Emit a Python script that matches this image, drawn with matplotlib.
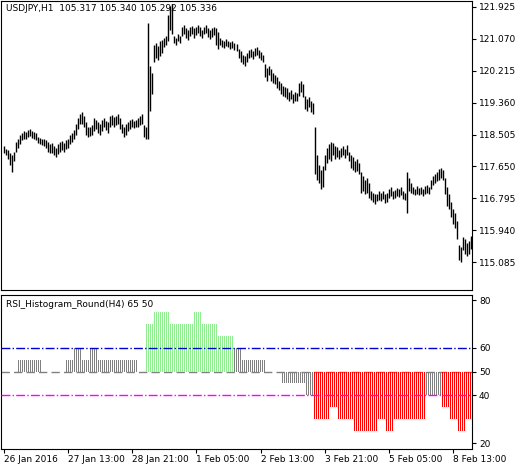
import matplotlib
matplotlib.use("Agg")
import matplotlib.pyplot as plt
import numpy as np

highs = [118.20,118.12,118.08,118.00,117.95,118.05,118.30,118.40,118.50,
 118.55,118.60,118.58,118.62,118.65,118.60,118.58,118.55,
 118.45,118.42,118.40,118.38,118.35, 118.30,118.25,118.28, 118.20,118.15,118.25,
 118.30,118.32,118.28,118.35,118.38, 118.50,118.55,118.62, 118.80,118.95,119.05,
 119.10,119.00, 118.85,118.70,118.72,118.75, 118.95,118.90,118.85,118.80,
 118.90,118.95,118.88,118.85, 119.00,119.02,118.98,119.00,119.05,118.95,
 118.80,118.70,118.78,118.85, 118.90,118.92,118.88,118.90, 118.95,119.00,119.05,
 118.75,118.70, 121.50, 120.35,120.15, 120.90,120.95,120.88,121.00,121.05,
 121.10,121.15, 121.70,121.95,122.00, 121.15,121.10,121.20,121.15,
 121.40,121.45,121.35,121.30,
 121.38,121.42,121.35,121.40,121.45,121.38,121.32,121.40,121.44,121.36,121.30,121.35,121.40,
 121.35,121.25, 121.10,121.05,121.00,121.08,121.02,120.98,121.00,120.95,120.92,
 120.80,120.75,120.65,120.60,120.70, 120.78,120.80,120.75,120.82,120.85,120.78,120.72,120.65,
 120.40,120.30,120.35,120.25,120.15,120.10, 120.05,119.95,119.90,119.80,119.78,
 119.75,119.65,119.70,119.60,119.65,119.62, 119.90,119.95,119.85,
 119.55,119.45,119.50,119.40,119.35, 118.70,
 117.95,117.70,117.55,117.65,117.95,
 118.15,118.25,118.30,118.28,118.20,118.18,118.10,118.15,118.20,118.12,118.22,118.05,
 117.95,117.90,117.80,117.85,117.75,
 117.50,117.40,117.30,117.35,117.20,
 117.00,116.95,116.90,116.92,116.98,116.95,117.00,116.90,116.95,
 117.05,117.10,117.00,117.02,117.08,117.05,117.10,117.00,116.95,
 117.50,
 117.35,117.20,117.10,117.05,117.12,117.08,117.10,117.05,117.12,117.15,117.10,
 117.30,117.40,117.45,117.50,117.58,117.62,117.55,
 117.35,117.10,116.90,116.70,116.50,116.40,116.20,
 115.55,115.50, 115.75,115.70,115.60,115.65,115.80,115.85]
lows = [118.02,117.95,117.85,117.70,117.50,117.80,118.05,118.15,118.25,
 118.35,118.40,118.38,118.45,118.48,118.42,118.40,118.35,
 118.28,118.25,118.22,118.20,118.15, 118.05,118.00,118.02, 117.95,117.90,117.98,
 118.05,118.10,118.05,118.12,118.15, 118.25,118.30,118.38, 118.50,118.65,118.80,
 118.80,118.70, 118.50,118.45,118.48,118.50, 118.60,118.65,118.55,118.50,
 118.60,118.70,118.62,118.55, 118.70,118.75,118.72,118.75,118.78,118.65,
 118.55,118.45,118.50,118.60, 118.65,118.70,118.68,118.70, 118.72,118.75,118.80,
 118.45,118.40, 118.40, 119.15,119.60, 120.45,120.55,120.50,120.60,120.70,
 120.85,120.90, 121.00,121.30,121.20, 120.95,120.90,121.00,120.95,
 121.15,121.20,121.10,121.05,
 121.15,121.20,121.10,121.18,121.22,121.15,121.10,121.20,121.22,121.12,121.08,121.12,121.18,
 120.90,120.80, 120.90,120.85,120.82,120.88,120.85,120.80,120.82,120.78,120.75,
 120.55,120.45,120.40,120.35,120.45, 120.55,120.58,120.52,120.60,120.65,120.55,120.50,120.45,
 120.05,119.95,120.10,119.95,119.90,119.85, 119.75,119.70,119.60,119.55,119.50,
 119.45,119.40,119.45,119.35,119.40,119.40, 119.55,119.65,119.50,
 119.20,119.15,119.25,119.10,119.05, 117.45,
 117.30,117.20,117.05,117.10,117.55,
 117.75,117.85,117.80,117.95,117.85,117.90,117.85,117.90,117.95,117.88,117.95,117.80,
 117.60,117.55,117.50,117.52,117.45,
 116.95,117.00,116.90,116.95,116.80,
 116.75,116.70,116.65,116.72,116.75,116.72,116.78,116.68,116.70,
 116.80,116.85,116.78,116.80,116.85,116.82,116.88,116.78,116.75,
 116.40,
 117.00,116.95,116.90,116.88,116.90,116.88,116.90,116.85,116.92,116.95,116.90,
 117.05,117.15,117.20,117.25,117.30,117.35,117.30,
 116.90,116.60,116.50,116.30,116.10,116.00,115.70,
 115.15,115.10, 115.40,115.30,115.25,115.30,115.45,115.55]

hist_levels = [50,55,50,55,60,55,60,55,50,70,75,70,75,70,65,60,55,50,45,40,30,35,30,25,30,25,30,40,35,30,25,30]
hist_counts = [7,12,12,4,4,4,4,20,4,4,8,12,4,8,8,4,12,8,12,4,8,4,8,12,4,4,16,8,4,4,4,4]

price_ticks = [115.085,115.940,116.795,117.650,118.505,119.360,120.215,121.070,121.925]
rsi_ticks = [20,40,50,60,80]
x_labels = ["26 Jan 2016","27 Jan 13:00","28 Jan 21:00","1 Feb 05:00","2 Feb 13:00","3 Feb 21:00","5 Feb 05:00","8 Feb 13:00"]
x_label_pos = [0,32,64,96,128,160,192,224]

plt.rcParams['font.family'] = ['DejaVu Sans']
W, H = 524, 469
fig = plt.figure(figsize=(W/100, H/100), dpi=100)
ax1 = fig.add_axes([1/W, (H-290)/H, 471/W, 289/H])
ax2 = fig.add_axes([1/W, (H-449)/H, 471/W, 154/H])

n = min(len(highs), len(lows))
idx = np.arange(n)
ax1.vlines(idx, lows[:n], highs[:n], color='black', lw=1.0)
xl = (-1.5, 233.5)
ax1.set_xlim(*xl)
ax1.set_ylim(114.34, 122.085)
ax1.yaxis.tick_right()
ax1.set_yticks(price_ticks)
ax1.set_yticklabels([f"{t:.3f}" for t in price_ticks], fontsize=6.5)
ax1.set_xticks([])
ax1.tick_params(axis='y', length=3, pad=2)
ax1.text(0.01, 0.99, "USDJPY,H1  105.317 105.340 105.292 105.336", transform=ax1.transAxes,
         fontsize=6.5, va='top', ha='left')

vals = np.repeat(hist_levels, hist_counts)
hidx = np.arange(len(vals))
cols = ['#90ee90' if v >= 65 else ('#ff0000' if v <= 35 else '#808080') for v in vals]
ax2.axhline(50, color='#808080', lw=1, ls=(0, (6, 3)), zorder=1)
ax2.bar(hidx, vals - 50, bottom=50, width=0.5, color=cols, zorder=2)
ax2.axhline(60, color='#0000cd', lw=1, ls='-.', zorder=3)
ax2.axhline(40, color='#ff00ff', lw=1, ls='-.', zorder=3)
ax2.set_xlim(*xl)
ax2.set_ylim(17.5, 82.1)
ax2.yaxis.tick_right()
ax2.set_yticks(rsi_ticks)
ax2.set_yticklabels([str(t) for t in rsi_ticks], fontsize=6.5)
ax2.tick_params(axis='y', length=3, pad=2)
ax2.set_xticks(x_label_pos)
ax2.set_xticklabels(x_labels, fontsize=6.5, ha='left')
ax2.tick_params(axis='x', length=3, pad=1)
ax2.text(0.01, 0.97, "RSI_Histogram_Round(H4) 65 50", transform=ax2.transAxes,
         fontsize=6.5, va='top', ha='left')
for a in (ax1, ax2):
    for s in a.spines.values():
        s.set_linewidth(0.8)
fig.savefig("out.png", dpi=100)
